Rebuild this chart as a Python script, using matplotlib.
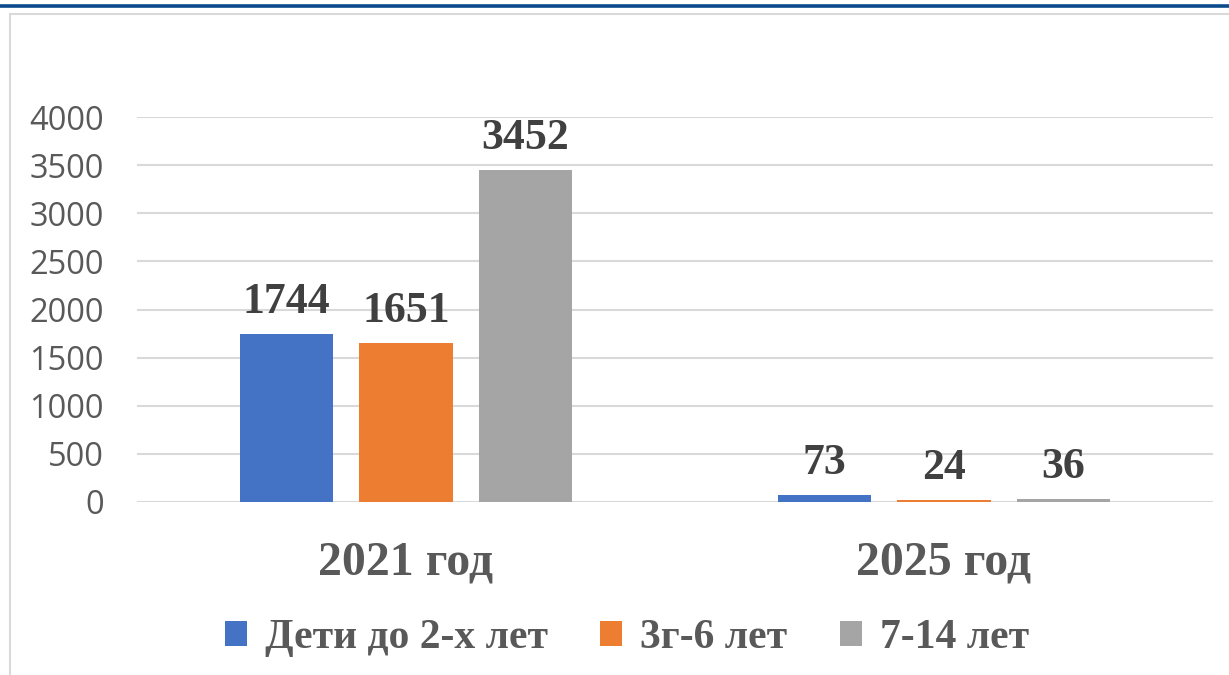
import matplotlib
matplotlib.use("Agg")
import matplotlib.pyplot as plt
import numpy as np
from matplotlib.patches import Rectangle
from matplotlib.lines import Line2D

categories = ["2021 год", "2025 год"]
series_names = ["Дети до 2-х лет", "3г-6 лет", "7-14 лет"]
values_children = [1744, 73]
values_3_6 = [1651, 24]
values_7_14 = [3452, 36]
yticks = [0, 500, 1000, 1500, 2000, 2500, 3000, 3500, 4000]

series = [values_children, values_3_6, values_7_14]
colors = ["#4472C4", "#ED7D31", "#A5A5A5"]

fig = plt.figure(figsize=(12.29, 6.75), dpi=100)
# outer decorations
fig.add_artist(Line2D([0, 1], [1 - 5.5/675, 1 - 5.5/675], color="#0b4a8b", lw=2.6, transform=fig.transFigure))
fig.add_artist(Rectangle((10/1229, -0.05), 1.1, 1 - 14/675 + 0.05, transform=fig.transFigure,
                         fill=False, edgecolor="#d9d9d9", lw=1.5))

ax = fig.add_axes([137/1229, (675-502)/675, 1076/1229, 385/675])
x = np.arange(len(categories))
bw = 0.173
step = 0.222
for i, (vals, c) in enumerate(zip(series, colors)):
    pos = x + (i - 1) * step
    bars = ax.bar(pos, vals, width=bw, color=c, label=series_names[i], zorder=3)
    for b, v in zip(bars, vals):
        ax.annotate(str(v), (b.get_x() + b.get_width()/2, v), xytext=(0, 15), textcoords="offset points",
                    ha="center", va="baseline", fontsize=31.5, fontweight="bold", family="Liberation Serif",
                    color="#404040")

ax.set_xlim(-0.5, 1.5)
ax.set_ylim(0, 4000)
ax.set_yticks(yticks)
ax.set_yticklabels([str(t) for t in yticks], fontsize=23.5, color="#595959", family="Open Sans")
ax.set_xticks(x)
ax.set_xticklabels(categories, fontsize=34.5, fontweight="bold", family="Liberation Serif", color="#595959")
ax.tick_params(axis="both", length=0)
ax.tick_params(axis="y", pad=24)
ax.tick_params(axis="x", pad=28)
ax.grid(axis="y", color="#d9d9d9", lw=1.5, zorder=0)
for s in ax.spines.values():
    s.set_visible(False)

leg = fig.legend(loc="center", bbox_to_anchor=(627/1229, 1 - 638/675), ncol=3, frameon=False,
                 prop={"family": "Liberation Serif", "weight": "bold", "size": 30},
                 handlelength=0.53, handleheight=0.53, handletextpad=0.43, columnspacing=1.25)
for t in leg.get_texts():
    t.set_color("#595959")

fig.savefig("out.png", dpi=100)
